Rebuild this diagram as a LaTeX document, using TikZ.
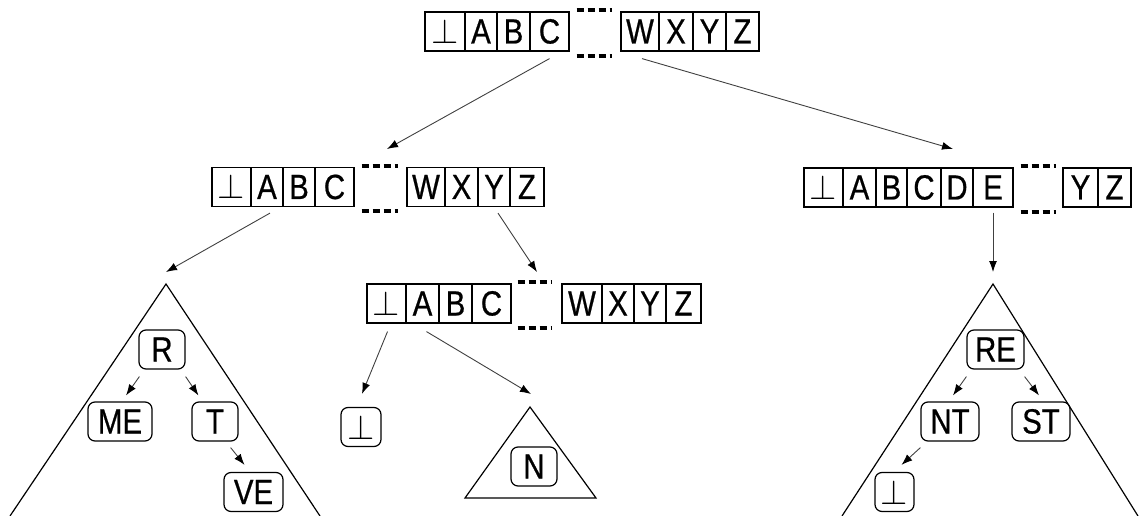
\documentclass[tikz,border=0pt]{standalone}
\usepackage{graphicx}
\usepackage{fontspec}
\setmainfont{Liberation Sans}[FakeStretch=0.84,FakeBold=0.6]
\usetikzlibrary{arrows.meta}
\tikzset{
  cell/.style={draw, line width=1.2pt, minimum height=39pt, inner sep=0pt, text height=24pt, text depth=0pt,
    font=\fontsize{35}{40}\selectfont},
  rnode/.style={draw, line width=1.2pt, rounded corners=7pt, minimum height=39pt, inner sep=0pt,
    text height=24pt, text depth=0pt, font=\fontsize{35}{40}\selectfont},
  arr/.style={line width=0.9pt, draw=black!75, -{Latex[length=11pt,width=8pt,color=black]}},
  dots/.style={line width=4pt, dash pattern=on 7pt off 4pt},
  tri/.style={line width=1.2pt}
}
\newcommand{\botsym}{\scalebox{3.5}{\normalsize$\perp$}}
\begin{document}
\begin{tikzpicture}[x=1pt,y=-1pt]
\useasboundingbox (0,0) rectangle (1144,516);
% ---- top array
\node[cell, minimum width=40pt] (t0) at (445,31.5) {\botsym};
\node[cell, minimum width=32pt] (tA) at (481,31.5) {A};
\node[cell, minimum width=33pt] (tB) at (513.5,31.5) {B};
\node[cell, minimum width=39pt] (tC) at (549.5,31.5) {C};
\node[cell, minimum width=38pt] (tW) at (640,31.5) {W};
\node[cell, minimum width=34pt] (tX) at (676,31.5) {X};
\node[cell, minimum width=33pt] (tY) at (709.5,31.5) {Y};
\node[cell, minimum width=33pt] (tZ) at (742.5,31.5) {Z};
\draw[dots] ([xshift=7pt,yshift=1pt]tC.north east) -- ([xshift=-8pt,yshift=1pt]tW.north west);
\draw[dots] ([xshift=7pt,yshift=-4pt]tC.south east) -- ([xshift=-8pt,yshift=-4pt]tW.south west);
% ---- level 2 left
\node[cell, minimum width=39pt] (l0) at (231.5,187) {\botsym};
\node[cell, minimum width=32pt] (lA) at (267,187) {A};
\node[cell, minimum width=32pt] (lB) at (299,187) {B};
\node[cell, minimum width=39pt] (lC) at (334.5,187) {C};
\node[cell, minimum width=38pt] (lW) at (426,187) {W};
\node[cell, minimum width=33pt] (lX) at (461.5,187) {X};
\node[cell, minimum width=32pt] (lY) at (494,187) {Y};
\node[cell, minimum width=34pt] (lZ) at (527,187) {Z};
\draw[dots] ([xshift=7pt,yshift=1pt]lC.north east) -- ([xshift=-8pt,yshift=1pt]lW.north west);
\draw[dots] ([xshift=7pt,yshift=-4pt]lC.south east) -- ([xshift=-8pt,yshift=-4pt]lW.south west);
% ---- level 2 right
\node[cell, minimum width=39pt] (r0) at (823.5,187.5) {\botsym};
\node[cell, minimum width=33pt] (rA) at (859.5,187.5) {A};
\node[cell, minimum width=31pt] (rB) at (891.5,187.5) {B};
\node[cell, minimum width=34pt] (rC) at (924,187.5) {C};
\node[cell, minimum width=32pt] (rD) at (957,187.5) {D};
\node[cell, minimum width=40pt] (rE) at (993,187.5) {E};
\node[cell, minimum width=35pt] (rY) at (1080.5,187.5) {Y};
\node[cell, minimum width=33pt] (rZ) at (1114.5,187.5) {Z};
\draw[dots] ([xshift=7pt,yshift=1pt]rE.north east) -- ([xshift=-6pt,yshift=1pt]rY.north west);
\draw[dots] ([xshift=7pt,yshift=-4pt]rE.south east) -- ([xshift=-6pt,yshift=-4pt]rY.south west);
% ---- level 3 middle
\node[cell, minimum width=39pt] (m0) at (386.5,303.5) {\botsym};
\node[cell, minimum width=33pt] (mA) at (422.5,303.5) {A};
\node[cell, minimum width=33pt] (mB) at (455.5,303.5) {B};
\node[cell, minimum width=39pt] (mC) at (491.5,303.5) {C};
\node[cell, minimum width=40pt] (mW) at (582,303.5) {W};
\node[cell, minimum width=32pt] (mX) at (618,303.5) {X};
\node[cell, minimum width=32pt] (mY) at (650,303.5) {Y};
\node[cell, minimum width=35pt] (mZ) at (683.5,303.5) {Z};
\draw[dots] ([xshift=6pt,yshift=1pt]mC.north east) -- ([xshift=-9pt,yshift=1pt]mW.north west);
\draw[dots] ([xshift=6pt,yshift=-4pt]mC.south east) -- ([xshift=-9pt,yshift=-4pt]mW.south west);
% ---- triangles
\coordinate (apexL) at (166,284);
\coordinate (apexR) at (993,284);
\coordinate (apexN) at (530,407);
\draw[tri] (10,516) -- (apexL) -- (320,516);
\draw[tri] (842,516) -- (apexR) -- (1138,516);
\draw[tri] (465,498) -- (apexN) -- (596,498) -- cycle;
% ---- tree nodes
\node[rnode, minimum width=46pt] (R) at (162,349.5) {R};
\node[rnode, minimum width=64pt] (ME) at (120,421.5) {ME};
\node[rnode, minimum width=46pt] (T) at (215,421.5) {T};
\node[rnode, minimum width=59pt] (VE) at (253.5,492) {VE};
\node[rnode, minimum width=40pt] (bm) at (361,427) {\botsym};
\node[rnode, minimum width=46pt] (N) at (534,466.5) {N};
\node[rnode, minimum width=57pt] (RE) at (995.5,349.5) {RE};
\node[rnode, minimum width=58pt] (NT) at (950,421.5) {NT};
\node[rnode, minimum width=58pt] (ST) at (1041,421.5) {ST};
\node[rnode, minimum width=39pt] (br) at (894.5,492) {\botsym};
% ---- free ends
\coordinate (e1) at (387,149);
\coordinate (e2) at (953,149);
\coordinate (e3) at (537,272);
% ---- arrows
\draw[arr] ([yshift=-7pt]tC.south) -- (e1);
\draw[arr] ([xshift=2pt,yshift=-7pt]tW.south) -- (e2);
\draw[arr] ([xshift=3pt,yshift=-6pt]lA.south) -- ([yshift=12pt]apexL);
\draw[arr] ([xshift=4pt,yshift=-6pt]lY.south) -- (e3);
\draw[arr] ([yshift=-5pt]rE.south) -- ([yshift=12pt]apexR);
\draw[arr] ([xshift=1pt,yshift=-8pt]m0.south) -- ([xshift=1pt,yshift=13pt]bm.north);
\draw[arr] ([xshift=4pt,yshift=-8pt]mA.south) -- ([xshift=1pt,yshift=13pt]apexN);
\draw[arr] ([xshift=1pt,yshift=-7pt]R.south west) -- ([xshift=6pt,yshift=6pt]ME.north);
\draw[arr] ([yshift=-7pt]R.south east) -- ([xshift=7pt,yshift=6pt]T.north west);
\draw[arr] ([xshift=-8pt,yshift=-6pt]T.south east) -- ([xshift=-9pt,yshift=7pt]VE.north);
\draw[arr] ([yshift=-7pt]RE.south west) -- ([xshift=3pt,yshift=6pt]NT.north);
\draw[arr] ([yshift=-7pt]RE.south east) -- ([xshift=-2pt,yshift=6pt]ST.north);
\draw[arr] ([yshift=-6pt]NT.south west) -- ([xshift=7pt,yshift=7pt]br.north);
\end{tikzpicture}
\end{document}
